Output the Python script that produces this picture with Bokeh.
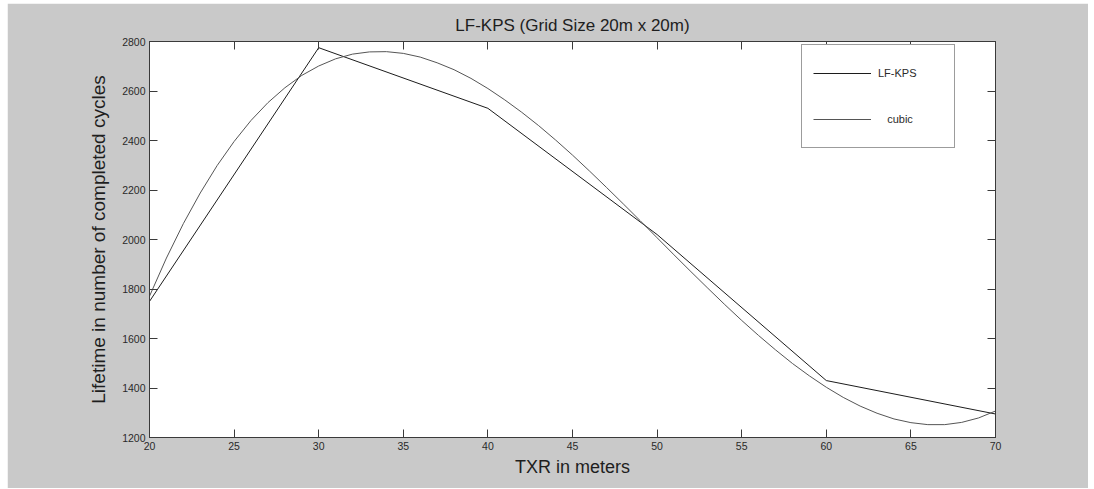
from bokeh.plotting import figure
from bokeh.models import Range1d, LinearAxis, FixedTicker, Legend, LegendItem, Spacer
from bokeh.layouts import row, column
from bokeh.embed import file_html
from bokeh.resources import INLINE

# ---- data ----
txr = [20, 30, 40, 50, 60, 70]
lfkps = [1750, 2775, 2530, 2020, 1430, 1295]

cubic_x = list(range(20, 71))
cubic_y = [1771, 1925, 2064, 2188, 2299, 2396, 2481, 2553, 2613, 2663,
           2701, 2730, 2749, 2758, 2759, 2752, 2737, 2714, 2686, 2651,
           2610, 2564, 2514, 2460, 2402, 2341, 2277, 2211, 2144, 2076,
           2007, 1938, 1870, 1803, 1737, 1673, 1612, 1554, 1499, 1449,
           1403, 1362, 1327, 1298, 1275, 1260, 1252, 1252, 1261, 1279,
           1307]

x_ticks = [20, 25, 30, 35, 40, 45, 50, 55, 60, 65, 70]
y_ticks = [1200, 1400, 1600, 1800, 2000, 2200, 2400, 2600, 2800]

title_text = "LF-KPS (Grid Size 20m x 20m)"
x_label = "TXR in meters"
y_label = "Lifetime in number of completed cycles"
series_names = ["LF-KPS", "\u00a0\u00a0\u00a0cubic"]

LABELF = "'Liberation Sans', Arial, sans-serif"
TICKF = "'Liberation Sans', Arial, sans-serif"
GRAY = "#c9c9c9"
AX = "#3a3a3a"

p = figure(width=1081, height=485, output_backend="svg", toolbar_location=None,
           x_range=Range1d(20, 70), y_range=Range1d(1200, 2800),
           x_axis_location=None, y_axis_location=None,
           min_border_left=142, min_border_right=93,
           min_border_top=38, min_border_bottom=51)

p.background_fill_color = "white"
p.border_fill_color = GRAY
p.outline_line_color = AX
p.xgrid.visible = False
p.ygrid.visible = False

def style(ax, labels=True):
    ax.axis_line_color = AX
    ax.major_tick_line_color = AX
    ax.major_tick_in = 8
    ax.major_tick_out = 0
    ax.minor_tick_line_color = None
    if labels:
        ax.major_label_text_font = TICKF
        ax.major_label_text_font_size = "10.5px"
        ax.major_label_text_color = "#2a2a2a"
        ax.major_label_standoff = 4
        ax.axis_label_text_font = LABELF
        ax.axis_label_text_font_style = "normal"
        ax.axis_label_text_color = "#1e1e1e"
    else:
        ax.major_label_text_font_size = "1px"
        ax.major_label_text_color = None
        ax.major_label_standoff = 0

bottom = LinearAxis(ticker=FixedTicker(ticks=x_ticks), axis_label=x_label)
style(bottom)
bottom.axis_label_text_font_size = "18px"
bottom.axis_label_standoff = 4
left = LinearAxis(ticker=FixedTicker(ticks=y_ticks), axis_label=y_label)
style(left)
left.axis_label_text_font_size = "19px"
left.axis_label_standoff = 10
top = LinearAxis(ticker=FixedTicker(ticks=x_ticks))
style(top, labels=False)
right = LinearAxis(ticker=FixedTicker(ticks=y_ticks))
style(right, labels=False)

p.add_layout(bottom, "below")
p.add_layout(left, "left")
p.add_layout(top, "above")
p.add_layout(right, "right")

p.title.text = title_text
p.title.align = "center"
p.title.vertical_align = "top"
p.title.text_font = LABELF
p.title.text_font_size = "17px"
p.title.text_font_style = "normal"
p.title.text_color = "#1e1e1e"
p.title.standoff = 10

r1 = p.line(txr, lfkps, line_color="#1c1c1c", line_width=1)
r2 = p.line(cubic_x, cubic_y, line_color="#555555", line_width=1)

legend = Legend(items=[LegendItem(label=series_names[0], renderers=[r1]),
                       LegendItem(label=series_names[1], renderers=[r2])],
                location=(652, 289), margin=0, padding=11, spacing=12,
                glyph_width=58, glyph_height=34, label_height=34,
                label_width=65, label_standoff=7,
                label_text_font=TICKF, label_text_font_size="11px",
                label_text_color="#2a2a2a",
                border_line_color=AX, border_line_width=1,
                background_fill_color="white", background_fill_alpha=1)
p.add_layout(legend, "center")

layout = column(Spacer(height=3), row(Spacer(width=7), p))
open("out.html", "w").write(file_html(layout, INLINE))
